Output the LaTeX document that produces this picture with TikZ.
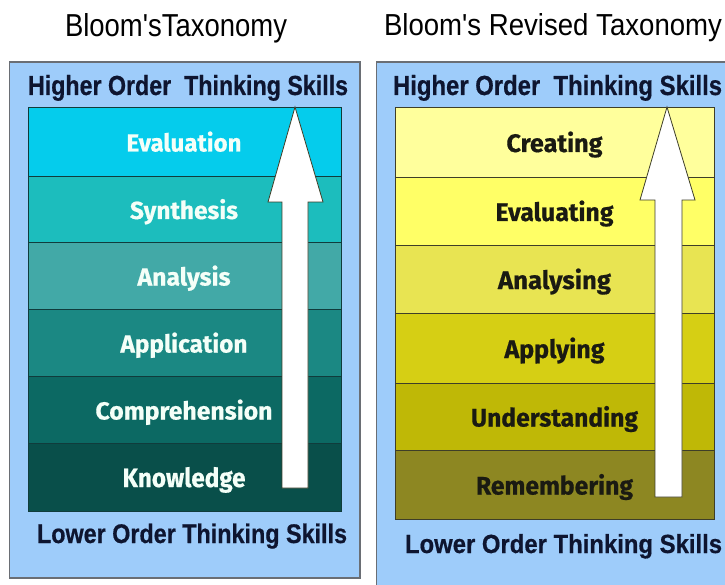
\documentclass[tikz,border=0pt]{standalone}
\usepackage{fontspec}
\usepackage{graphicx}
\newfontfamily\hdfont{Liberation Sans}[BoldFeatures={FakeBold=0.6}]
\newfontfamily\lbfont{Fira Sans}[BoldFeatures={FakeBold=0.6}]
\newcommand{\fitbox}[3]{\resizebox{#1pt}{#2pt}{#3}}
\newcommand{\sq}{\XeTeXglyph\XeTeXglyphindex "quotesingle"\relax}
\definecolor{panelblue}{HTML}{9ECCFA}
\definecolor{panelborder}{HTML}{6A6E74}
\definecolor{navy}{HTML}{0E1530}
\definecolor{lA}{HTML}{05CCEC}
\definecolor{lB}{HTML}{1CBDBD}
\definecolor{lC}{HTML}{42A9A7}
\definecolor{lD}{HTML}{1B8883}
\definecolor{lE}{HTML}{0C6963}
\definecolor{lF}{HTML}{094F4A}
\definecolor{rA}{HTML}{FFFF9C}
\definecolor{rB}{HTML}{FFFF66}
\definecolor{rC}{HTML}{E8E452}
\definecolor{rD}{HTML}{D6CF14}
\definecolor{rE}{HTML}{BFB806}
\definecolor{rF}{HTML}{8D8722}
\definecolor{lline}{HTML}{103C3C}
\definecolor{rline}{HTML}{3E3E28}
\definecolor{ltext}{HTML}{F4FFF8}
\definecolor{rtext}{HTML}{1A1A12}
\begin{document}
\begin{tikzpicture}[x=1pt,y=-1pt,
  panel/.style={fill=panelblue,draw=panelborder,line width=1.3pt},
  llayer/.style={draw=lline,line width=0.8pt},
  rlayer/.style={draw=rline,line width=0.8pt},
  txt/.style={inner sep=0pt,outer sep=0pt},
  uparrow/.style={fill=white,draw=rline,line width=0.8pt,line join=miter}]
\path[use as bounding box,clip] (0,0) rectangle (725,585);
\fill[white] (0,0) rectangle (725,585);
% panels
\draw[panel] (9.5,62) rectangle (360,578);
\draw[panel] (376.5,62) rectangle (745,600);
% titles
\node[txt,anchor=base west] (ltitle) at (65,37) {\fitbox{222}{23}{\hdfont Bloom\sq sTaxonomy}};
\node[txt,anchor=base west] (rtitle) at (384,36) {\fitbox{338}{22}{\hdfont Bloom\sq s Revised Taxonomy}};
% headers
\node[txt,anchor=base west,text=navy] (lhigh) at (28,95) {\fitbox{320}{20}{\hdfont\bfseries Higher Order~~Thinking Skills}};
\node[txt,anchor=base west,text=navy] (rhigh) at (393,95) {\fitbox{329}{20}{\hdfont\bfseries Higher Order~~Thinking Skills}};
\node[txt,anchor=base west,text=navy] (llow) at (37,543) {\fitbox{310}{19.5}{\hdfont\bfseries Lower Order Thinking Skills}};
\node[txt,anchor=base west,text=navy] (rlow) at (405,553) {\fitbox{317}{19}{\hdfont\bfseries Lower Order Thinking Skills}};
% left stack
\foreach \t/\b/\c/\w/\lab [count=\i] in {107/176/lA/115/Evaluation,176/242/lB/108/Synthesis,242/309/lC/93/Analysis,309/376/lD/127/Application,376/443/lE/177/Comprehension,443/511/lF/123/Knowledge}{
  \draw[llayer,fill=\c] (28,\t) rectangle (341,\b);
  \node[txt,anchor=base,text=ltext] (l\i) at (184,{(\t+\b)/2+10}) {\fitbox{\w}{20}{\lbfont\bfseries \lab}};
}
% right stack
\foreach \t/\b/\c/\w/\lab [count=\i] in {107/177/rA/96/Creating,177/245/rB/118/Evaluating,245/313/rC/113/Analysing,313/383/rD/100/Applying,383/450/rE/167/Understanding,450/519/rF/157/Remembering}{
  \draw[rlayer,fill=\c] (395,\t) rectangle (714,\b);
  \node[txt,anchor=base,text=rtext] (r\i) at (554.5,{(\t+\b)/2+10}) {\fitbox{\w}{20.5}{\lbfont\bfseries \lab}};
}
% arrows
\draw[uparrow] (295,107) -- (323,202) -- (308,202) -- (308,488) -- (282,488) -- (282,202) -- (268,202) -- cycle;
\draw[uparrow] (667,107) -- (695,200) -- (682,200) -- (682,497) -- (655,497) -- (655,200) -- (640,200) -- cycle;
\end{tikzpicture}
\end{document}
